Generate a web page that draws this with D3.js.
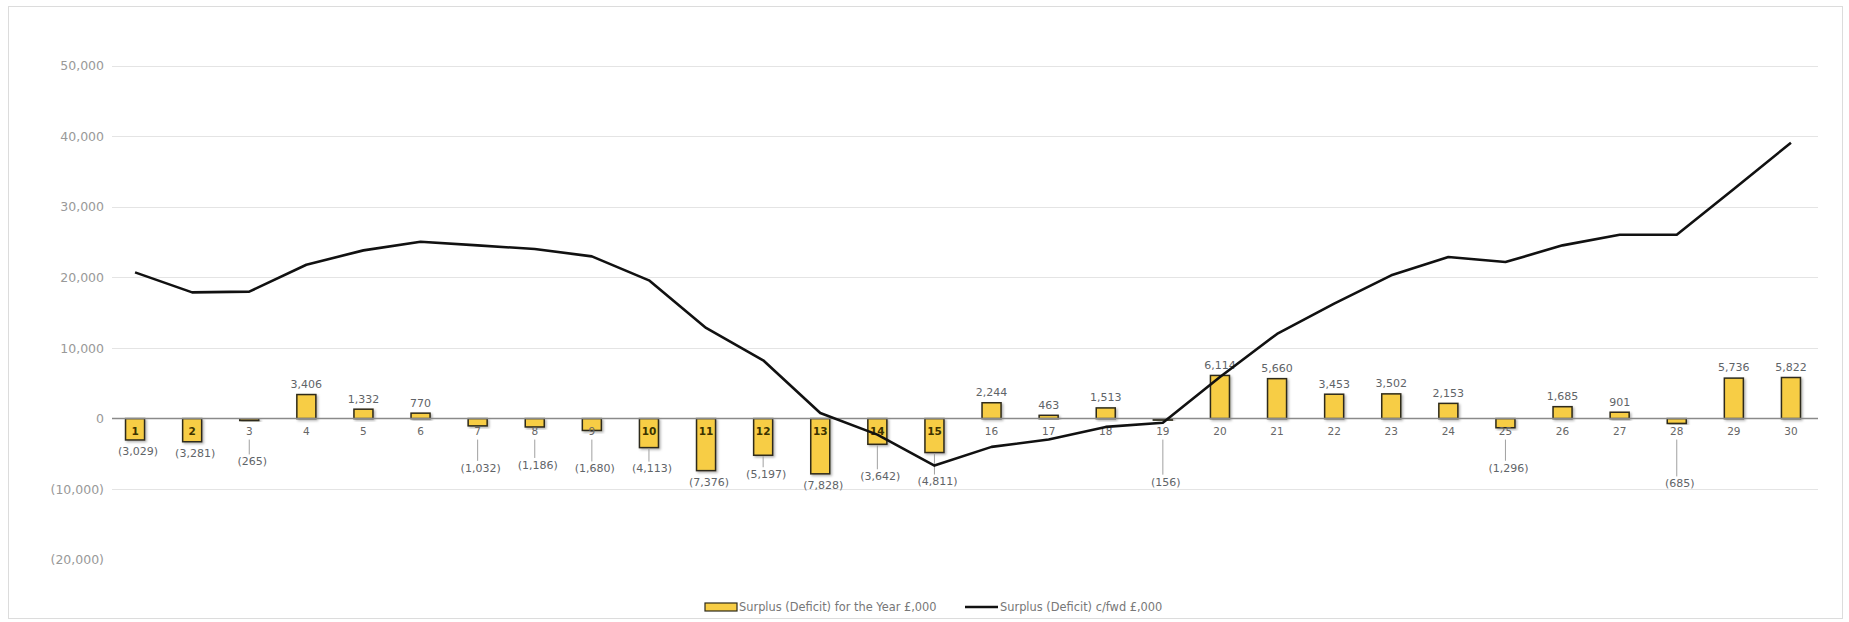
<!DOCTYPE html>
<html>
<head>
<meta charset="utf-8">
<script src="https://cdn.jsdelivr.net/npm/d3@7/dist/d3.min.js"></script>
<style>
  html, body { margin: 0; padding: 0; background: #ffffff; }
  svg { display: block; }
</style>
</head>
<body>
<script>
// ---------------- DATA ----------------
const categories = ["1","2","3","4","5","6","7","8","9","10","11","12","13","14","15",
                    "16","17","18","19","20","21","22","23","24","25","26","27","28","29","30"];
const surplusForYear = [-3029, -3281, -265, 3406, 1332, 770, -1032, -1186, -1680, -4113,
                        -7376, -5197, -7828, -3642, -4811, 2244, 463, 1513, -156, 6114,
                        5660, 3453, 3502, 2153, -1296, 1685, 901, -685, 5736, 5822];
const surplusCarriedForward = [20720, 17890, 17990, 21810, 23840, 25070, 24550, 24030, 22990, 19590,
                               12840, 8260, 800, -2270, -6660, -4010, -2970, -1180, -600, 5900,
                               12000, 16300, 20300, 22900, 22190, 24550, 26060, 26060, 32550, 39100];
const yTicks = [-20000, -10000, 0, 10000, 20000, 30000, 40000, 50000];
const seriesNames = ["Surplus (Deficit) for the Year \u00A3,000", "Surplus (Deficit) c/fwd \u00A3,000"];

// ---------------- LAYOUT (label placement, px below negative bar end) ----------------
const negLabelGap = {"3":41, "7":42, "8":38, "9":38, "10":21, "12":19, "14":32, "15":29, "19":62, "25":40, "28":60};

const W = 1849, H = 622;
const FONT = "'DejaVu Sans', Verdana, sans-serif";
const svg = d3.select("body").append("svg").attr("width", W).attr("height", H);

const defs = svg.append("defs");
const f = defs.append("filter").attr("id", "shadow").attr("x", "-30%").attr("y", "-30%").attr("width", "160%").attr("height", "160%");
f.append("feDropShadow").attr("dx", 1.5).attr("dy", 1.5).attr("stdDeviation", 1).attr("flood-color", "#000").attr("flood-opacity", 0.3);

// frame
svg.append("rect").attr("x", 8.5).attr("y", 6.5).attr("width", 1834).attr("height", 612)
   .attr("fill", "#fff").attr("stroke", "#dcdcdc").attr("stroke-width", 1);

const x = d3.scaleBand().domain(categories).range([106.5, 1819.5]).padding(0);
const y = d3.scaleLinear().domain([-20000, 50000]).range([559.7, 65.8]);
const cx = c => x(c) + x.bandwidth() / 2;
const barW = x.bandwidth() * 0.333;
const gridX0 = 112, gridX1 = 1818;

const fmt = v => v < 0 ? "(" + d3.format(",")(-v) + ")" : d3.format(",")(v);

// gridlines
svg.append("g").selectAll("line").data(yTicks.filter(t => t !== 0 && t !== -20000)).join("line")
  .attr("x1", gridX0).attr("x2", gridX1)
  .attr("y1", d => Math.round(y(d)) + 0.5).attr("y2", d => Math.round(y(d)) + 0.5)
  .attr("stroke", "#e4e4e4").attr("stroke-width", 1.2);

// y axis labels
const yAxis = d3.axisLeft(y).tickValues(yTicks).tickFormat(fmt).tickSize(0).tickPadding(0);
const ga = svg.append("g").attr("transform", "translate(104,0)").call(yAxis);
ga.select(".domain").remove();
ga.selectAll("text").attr("font-family", FONT).attr("font-size", "12.5px").attr("fill", "#999");

// bars
const data = categories.map((c, i) => ({c, v: surplusForYear[i], cf: surplusCarriedForward[i]}));
svg.append("g").selectAll("rect").data(data).join("rect")
  .attr("x", d => cx(d.c) - barW / 2)
  .attr("width", barW)
  .attr("y", d => y(Math.max(0, d.v)))
  .attr("height", d => Math.max(1.5, Math.abs(y(d.v) - y(0))))
  .attr("fill", "#f7cd45")
  .attr("stroke", "#2e2a1a").attr("stroke-width", 1.5)
  .attr("filter", "url(#shadow)");

// zero axis line
svg.append("line").attr("x1", gridX0).attr("x2", gridX1)
  .attr("y1", y(0)).attr("y2", y(0)).attr("stroke", "#8a8a8a").attr("stroke-width", 1.5);

// category labels
svg.append("g").selectAll("text").data(data).join("text")
  .attr("x", d => cx(d.c)).attr("y", y(0) + 13)
  .attr("dy", "0.35em").attr("text-anchor", "middle")
  .attr("font-family", FONT).attr("font-size", "10.5px")
  .attr("font-weight", d => (y(d.v) - y(0) > 20) ? "bold" : "normal")
  .attr("fill", d => (y(d.v) - y(0) > 20) ? "#3b3200" : "#666")
  .text(d => d.c);

// value labels + leader lines
const labelY = d => d.v >= 0 ? y(d.v) - 10.5 : y(d.v) + (negLabelGap[d.c] !== undefined ? negLabelGap[d.c] : 11.5);
svg.append("g").selectAll("line").data(data.filter(d => d.v < 0 && negLabelGap[d.c] !== undefined)).join("line")
  .attr("x1", d => cx(d.c)).attr("x2", d => cx(d.c))
  .attr("y1", d => Math.max(y(d.v) + 1, y(0) + 21))
  .attr("y2", d => labelY(d) - 7)
  .attr("stroke", "#a0a0a0").attr("stroke-width", 1);

svg.append("g").selectAll("text").data(data).join("text")
  .attr("x", d => cx(d.c) + (d.v < 0 ? 3 : 0)).attr("y", d => labelY(d))
  .attr("dy", "0.35em").attr("text-anchor", "middle")
  .attr("font-family", FONT).attr("font-size", "11px").attr("fill", "#5f6468")
  .text(d => fmt(d.v));

// line
const line = d3.line().x(d => cx(d.c)).y(d => y(d.cf));
svg.append("path").datum(data).attr("d", line)
  .attr("fill", "none").attr("stroke", "#111").attr("stroke-width", 2.6)
  .attr("stroke-linejoin", "round");

// legend
const ly = 607;
const lg = svg.append("g").attr("font-family", FONT).attr("font-size", "11.4px").attr("fill", "#777");
lg.append("rect").attr("x", 705).attr("y", ly - 4).attr("width", 32).attr("height", 8)
  .attr("fill", "#f7cd45").attr("stroke", "#2e2a1a").attr("stroke-width", 1.2);
lg.append("text").attr("x", 739).attr("y", ly).attr("dy", "0.35em").text(seriesNames[0]);
lg.append("line").attr("x1", 965).attr("x2", 998).attr("y1", ly).attr("y2", ly)
  .attr("stroke", "#111").attr("stroke-width", 2.6);
lg.append("text").attr("x", 1000).attr("y", ly).attr("dy", "0.35em").text(seriesNames[1]);
</script>
</body>
</html>
